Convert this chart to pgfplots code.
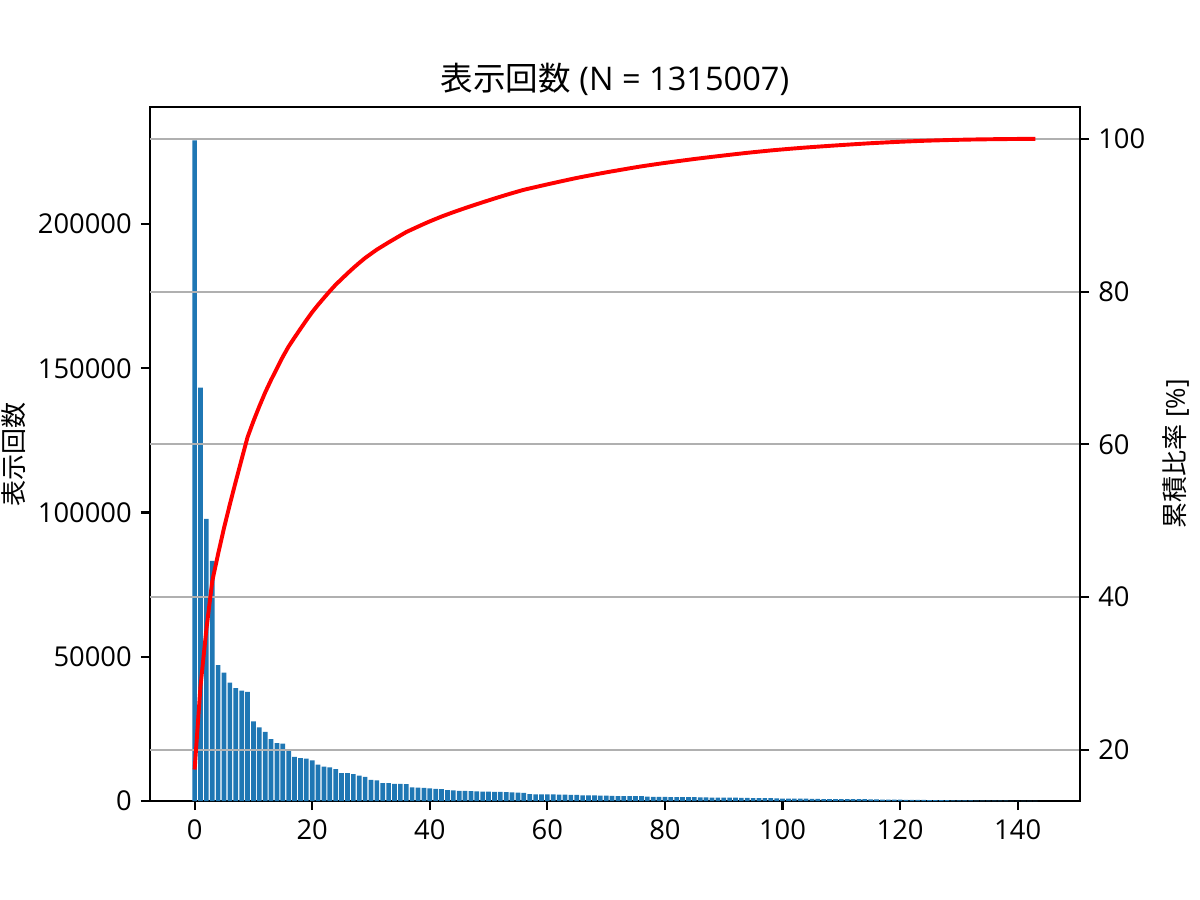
\documentclass[border=0pt]{standalone}
\usepackage{fontspec}
\setmainfont{Open Sans}
\newfontfamily\cjk{Noto Sans CJK JP}
\usepackage{pgfplots}
\usepackage{pgfplotstable}
\pgfplotsset{compat=1.18}

\definecolor{mplblue}{HTML}{1F77B4}
\definecolor{gridgray}{HTML}{B0B0B0}

% counts per rank
\pgfplotstableread[row sep=\\]{
x y\\
0 229000\\ 1 143300\\ 2 97800\\ 3 83200\\ 4 47100\\ 5 44500\\ 6 41000\\ 7 39100\\
8 38300\\ 9 37800\\ 10 27600\\ 11 25500\\ 12 24000\\ 13 21500\\ 14 20100\\ 15 19900\\
16 17900\\ 17 15300\\ 18 14900\\ 19 14700\\ 20 14100\\ 21 12600\\ 22 11900\\ 23 11700\\
24 11100\\ 25 9700\\ 26 9700\\ 27 9300\\ 28 8800\\ 29 8400\\ 30 7300\\ 31 7200\\
32 6200\\ 33 6200\\ 34 5950\\ 35 5950\\ 36 5900\\ 37 4700\\ 38 4650\\ 39 4600\\
40 4400\\ 41 4200\\ 42 4100\\ 43 3800\\ 44 3700\\ 45 3550\\ 46 3500\\ 47 3400\\
48 3350\\ 49 3300\\ 50 3250\\ 51 3200\\ 52 3150\\ 53 3100\\ 54 3000\\ 55 2950\\
56 2850\\ 57 2380\\ 58 2330\\ 59 2330\\ 60 2280\\ 61 2280\\ 62 2230\\ 63 2230\\
64 2180\\ 65 2180\\ 66 1980\\ 67 1930\\ 68 1930\\ 69 1880\\ 70 1880\\ 71 1780\\
72 1730\\ 73 1730\\ 74 1730\\ 75 1680\\ 76 1680\\ 77 1530\\ 78 1480\\ 79 1480\\
80 1430\\ 81 1380\\ 82 1380\\ 83 1330\\ 84 1330\\ 85 1330\\ 86 1230\\ 87 1230\\
88 1210\\ 89 1190\\ 90 1180\\ 91 1180\\ 92 1160\\ 93 1130\\ 94 1130\\ 95 1040\\
96 1040\\ 97 1020\\ 98 990\\ 99 900\\ 100 880\\ 101 860\\ 102 840\\ 103 820\\
104 800\\ 105 720\\ 106 710\\ 107 700\\ 108 690\\ 109 680\\ 110 670\\ 111 660\\
112 650\\ 113 640\\ 114 630\\ 115 620\\ 116 540\\ 117 520\\ 118 500\\ 119 480\\
120 460\\ 121 440\\ 122 420\\ 123 400\\ 124 380\\ 125 340\\ 126 320\\ 127 300\\
128 280\\ 129 260\\ 130 240\\ 131 220\\ 132 200\\ 133 180\\ 134 160\\ 135 140\\
136 140\\ 137 120\\ 138 110\\ 139 100\\ 140 90\\ 141 80\\ 142 65\\ 143 52\\
}\counts

% cumulative share in percent
\pgfplotstableread[row sep=\\]{
x p\\
0 17.414\\ 1 28.312\\ 2 35.749\\ 3 42.076\\ 4 45.658\\ 5 49.041\\ 6 52.159\\ 7 55.133\\
8 58.045\\ 9 60.920\\ 10 63.019\\ 11 64.958\\ 12 66.783\\ 13 68.418\\ 14 69.947\\ 15 71.460\\
16 72.821\\ 17 73.985\\ 18 75.118\\ 19 76.236\\ 20 77.308\\ 21 78.266\\ 22 79.171\\ 23 80.060\\
24 80.904\\ 25 81.642\\ 26 82.380\\ 27 83.087\\ 28 83.756\\ 29 84.395\\ 30 84.950\\ 31 85.498\\
32 85.969\\ 33 86.441\\ 34 86.893\\ 35 87.346\\ 36 87.794\\ 37 88.151\\ 38 88.505\\ 39 88.855\\
40 89.190\\ 41 89.509\\ 42 89.821\\ 43 90.110\\ 44 90.391\\ 45 90.661\\ 46 90.927\\ 47 91.186\\
48 91.441\\ 49 91.692\\ 50 91.939\\ 51 92.182\\ 52 92.421\\ 53 92.657\\ 54 92.885\\ 55 93.110\\
56 93.327\\ 57 93.507\\ 58 93.685\\ 59 93.862\\ 60 94.035\\ 61 94.209\\ 62 94.378\\ 63 94.548\\
64 94.714\\ 65 94.879\\ 66 95.030\\ 67 95.177\\ 68 95.323\\ 69 95.466\\ 70 95.609\\ 71 95.745\\
72 95.876\\ 73 96.008\\ 74 96.139\\ 75 96.267\\ 76 96.395\\ 77 96.511\\ 78 96.624\\ 79 96.736\\
80 96.845\\ 81 96.950\\ 82 97.055\\ 83 97.156\\ 84 97.257\\ 85 97.358\\ 86 97.452\\ 87 97.545\\
88 97.638\\ 89 97.728\\ 90 97.818\\ 91 97.908\\ 92 97.996\\ 93 98.082\\ 94 98.168\\ 95 98.247\\
96 98.326\\ 97 98.403\\ 98 98.479\\ 99 98.547\\ 100 98.614\\ 101 98.679\\ 102 98.743\\ 103 98.806\\
104 98.866\\ 105 98.921\\ 106 98.975\\ 107 99.028\\ 108 99.081\\ 109 99.133\\ 110 99.184\\ 111 99.234\\
112 99.283\\ 113 99.332\\ 114 99.380\\ 115 99.427\\ 116 99.468\\ 117 99.507\\ 118 99.545\\ 119 99.582\\
120 99.617\\ 121 99.650\\ 122 99.682\\ 123 99.713\\ 124 99.742\\ 125 99.768\\ 126 99.792\\ 127 99.815\\
128 99.836\\ 129 99.856\\ 130 99.874\\ 131 99.891\\ 132 99.906\\ 133 99.920\\ 134 99.932\\ 135 99.942\\
136 99.953\\ 137 99.962\\ 138 99.970\\ 139 99.978\\ 140 99.985\\ 141 99.991\\ 142 99.996\\ 143 100.000\\
}\cumul

\begin{document}
\begin{tikzpicture}
\useasboundingbox (-57.6pt,-38.0pt) rectangle (403.2pt,307.6pt);
\pgfplotsset{
  every axis/.append style={
    scale only axis, width=357.1pt, height=266.4pt,
    at={(0,0)}, anchor=south west,
    xmin=-7.59, xmax=150.59,
    tick align=outside, major tick length=3.5pt,
    every tick/.style={black, line width=0.8pt},
    axis line style={line width=0.8pt},
    tick label style={font=\fontsize{10.5}{12}\selectfont},
    label style={font=\fontsize{10}{12}\selectfont},
    /pgf/number format/assume math mode=true,
  },
}
\begin{axis}[
  ymin=0, ymax=240450,
  xtick={0,20,...,140},
  ytick={0,50000,...,200000},
  scaled y ticks=false,
  yticklabel style={/pgf/number format/fixed, /pgf/number format/1000 sep={}},
  xtick pos=bottom, ytick pos=left,
  ylabel={\cjk 表示回数},
  ylabel style={yshift=-2pt},
  title={{\cjk 表示回数} (N = 1315007)},
  title style={font=\fontsize{12.5}{14}\selectfont, yshift=-5pt},
]
\addplot[ybar, bar width=0.8, fill=mplblue, draw=none] table[x=x,y=y]{\counts};
\end{axis}
\begin{axis}[
  axis x line=none, axis y line*=right,
  ymin=13.285, ymax=104.129,
  ytick={20,40,...,100},
  ymajorgrids, grid style={gridgray, line width=0.8pt},
  ylabel={{\cjk 累積比率} [\%]},
  ylabel near ticks, yticklabel pos=right,
]
\addplot[red, line width=1.5pt] table[x=x,y=p]{\cumul};
\end{axis}
\end{tikzpicture}
\end{document}
